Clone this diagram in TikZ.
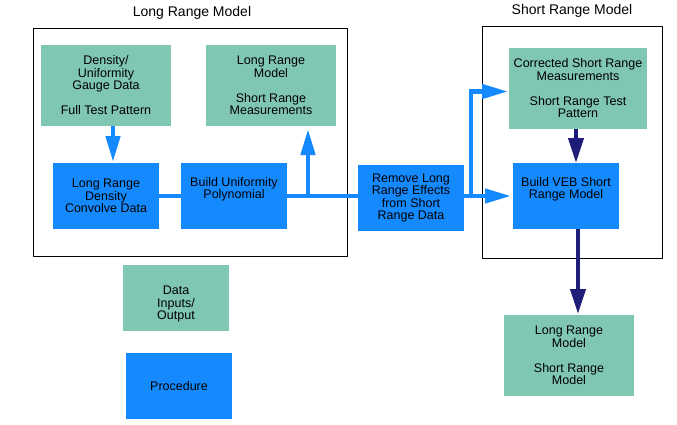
\documentclass[tikz,border=0pt]{standalone}
\usepackage{fontspec}
\setmainfont{Liberation Sans}
\usetikzlibrary{arrows.meta,calc}

\definecolor{datagreen}{RGB}{128,199,179}
\definecolor{procblue}{RGB}{21,138,255}
\definecolor{darknavy}{RGB}{30,30,120}

\begin{document}
\begin{tikzpicture}[x=1pt, y=-1pt, line join=round,
  every node/.style={font=\fontsize{12.5}{12.5}\selectfont, align=center, inner sep=0pt, outer sep=0pt},
  title/.style={font=\fontsize{14}{14}\selectfont},
  databox/.style={fill=datagreen, minimum width=130pt, minimum height=81pt},
  procbox/.style={fill=procblue, minimum width=106pt, minimum height=66pt},
  frame/.style={draw=black, line width=0.9pt},
  flow/.style={draw=procblue, line width=4.5pt, line join=miter},
  flowarr/.style={flow, -{Triangle[width=14pt,length=26pt]}},
  navyarr/.style={draw=darknavy, line width=4pt, -{Triangle[width=15pt,length=25pt]}}]
\useasboundingbox (0,0) rectangle (677,424);

% the two model frames
\draw[frame] (33,28) rectangle (347,256);
\draw[frame] (482,26) rectangle (662,258);
\node[title] (lrtitle) at (192,13) {Long Range Model};
\node[title] (srtitle) at (572,11) {Short Range Model};

% long range model
\node[databox] (gauge)    at (106,85.5) {Density/\\Uniformity\\Gauge Data\\[12.5pt]Full Test Pattern};
\node[databox] (lrmodel)  at (271,85.5) {Long Range\\Model\\[12.5pt]Short Range\\Measurements};
\node[procbox] (convolve) at (106,196)  {Long Range\\Density\\Convolve Data};
\node[procbox] (polyfit)  at (234,196)  {Build Uniformity\\Polynomial\\\strut};

% between the frames
\node[procbox] (remove)   at (411,198)  {Remove Long\\Range Effects\\from Short\\Range Data};

% short range model
\node[databox, minimum width=138pt] (corrected) at (578,88.5) {Corrected Short Range\\Measurements\\[12.5pt]Short Range Test\\Pattern};
\node[procbox] (vebmodel) at (566,196)  {Build VEB Short\\Range Model\\\strut};
\node[databox] (result)   at (569,355.5) {Long Range\\Model\\[12.5pt]Short Range\\Model};

% key
\node[databox, minimum width=106pt, minimum height=66pt] (keydata) at (176,298) {\strut\\Data\\Inputs/\\Output};
\node[procbox] (keyproc)  at (179,386)  {Procedure};

% connectors
\coordinate (forkA) at ($(polyfit.east)+(21,0)$);
\coordinate (forkB) at ($(remove.east |- vebmodel.west)+(7,0)$);
\draw[flowarr] ($(gauge.south)+(7,0)$) -- ($(convolve.north)+(7,-1)$);
\draw[flow] (convolve.east) -- (polyfit.west) (polyfit.east) -- (remove.west |- polyfit.east);
\draw[flowarr] (forkA) -- ($(forkA |- lrmodel.south)+(0,3)$);
\draw[flowarr] (remove.east |- vebmodel.west) -- ($(vebmodel.west)+(-2,0)$);
\draw[flowarr] (forkB) |- ($(corrected.west)+(-1,3)$);
\draw[navyarr] ($(corrected.south)+(-2,0)$) -- ($(vebmodel.north)+(10,0)$);
\draw[navyarr] ($(vebmodel.south)+(12,0)$) -- ($(result.north)+(9,-1)$);
\end{tikzpicture}
\end{document}
